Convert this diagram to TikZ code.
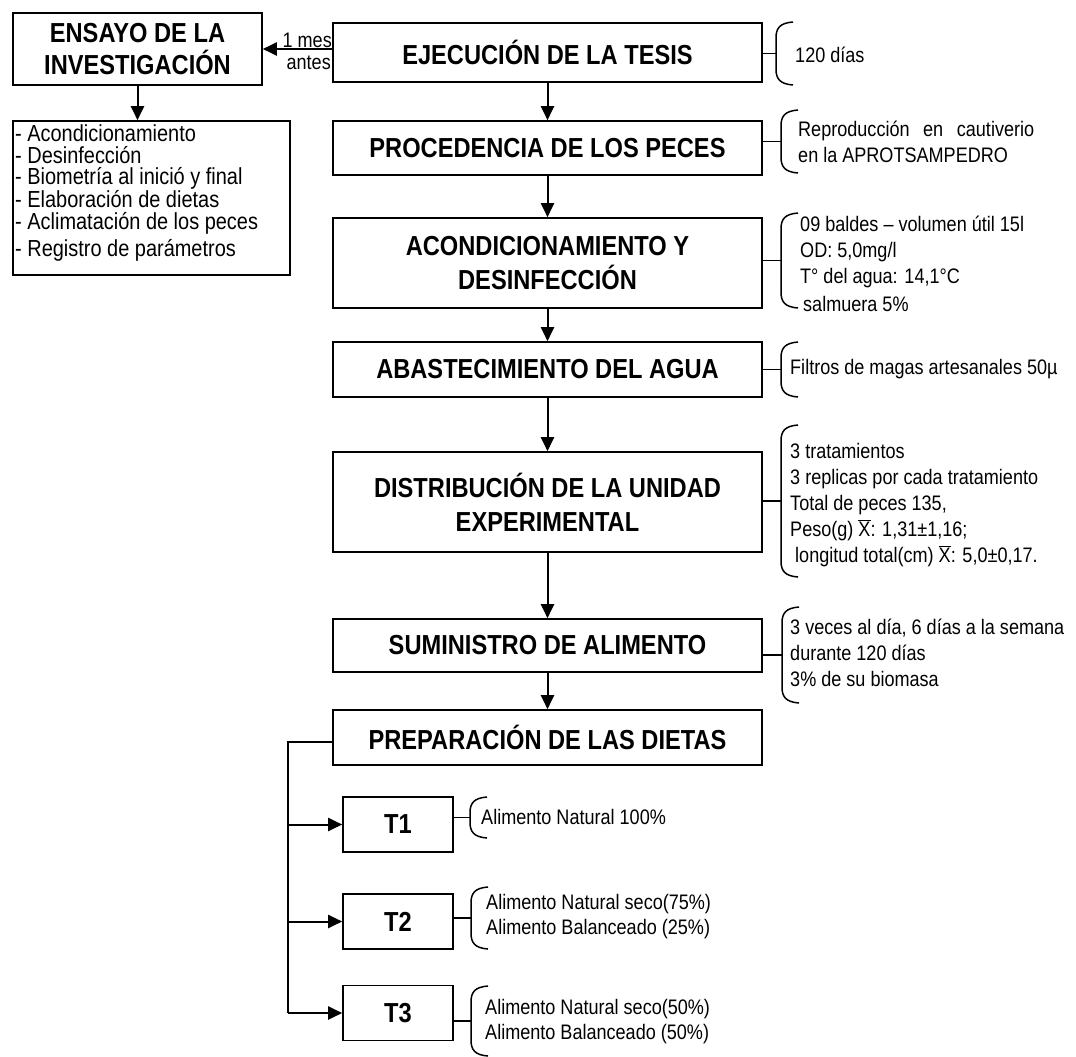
\documentclass[tikz,border=0pt]{standalone}
\usepackage{fontspec}
\setmainfont{Liberation Sans}[FakeStretch=0.86]
\usetikzlibrary{arrows.meta}

\newcommand{\headfont}{\fontsize{27.5}{34}\selectfont\bfseries}
\newcommand{\bodyfont}{\fontsize{21}{25.8}\selectfont}
\newcommand{\listfont}{\fontsize{23.2}{21.5}\selectfont}
\newcommand{\xbar}{$\overline{\hbox{X}}$}

% curly bracket: name of its tip, x of its back, top y, bottom y
\newcommand{\curlybrace}[4]{%
  \coordinate (#1) at (#2,{(#3+#4)/2});
  \draw[bracket] (#2+17,#3) .. controls (#2+4,#3+1) and (#2,#3+6) .. (#2,#3+16)
    -- (#2,#4-16) .. controls (#2,#4-6) and (#2+4,#4-1) .. (#2+17,#4);
}

\begin{document}
\begin{tikzpicture}[x=1pt,y=-1pt,
  box/.style={draw, line width=1.6pt, inner sep=0pt, align=center, font=\headfont},
  mainbox/.style={box, minimum width=429pt},
  tbox/.style={box, minimum width=110pt, minimum height=55pt},
  arr/.style={line width=2pt, -{Triangle[length=14pt,width=13pt]}},
  link/.style={line width=2pt},
  bracket/.style={line width=1.5pt},
  note/.style={anchor=west, inner sep=0pt, align=left, font=\bodyfont}]

\useasboundingbox (0,0) rectangle (1076,1057);

% left column
\node[box, minimum width=249pt, minimum height=72pt] (ensayo) at (137.5,49)
  {ENSAYO DE LA\\[-2pt]INVESTIGACIÓN};
\node[draw, line width=1.6pt, minimum width=277pt, minimum height=154pt, inner sep=0pt]
  (lista) at (151.5,198) {};
\node[anchor=west, inner sep=0pt, align=left, font=\listfont] (listatxt) at (15,193)
  {- Acondicionamiento\\- Desinfección\\- Biometría al inició y final\\
   - Elaboración de dietas\\- Aclimatación de los peces\\[4pt]- Registro de parámetros};

% main column
\node[mainbox, minimum height=59pt] (ejec) at (547.5,52.5) {EJECUCIÓN DE LA TESIS};
\node[mainbox, minimum height=54pt] (proc) at (547.5,148) {PROCEDENCIA DE LOS PECES};
\node[mainbox, minimum height=90pt] (acond) at (547.5,263) {ACONDICIONAMIENTO Y\\DESINFECCIÓN};
\node[mainbox, minimum height=55pt] (abast) at (547.5,369.5) {ABASTECIMIENTO DEL AGUA};
\node[mainbox, minimum height=100pt] (distrib) at (547.5,502) {DISTRIBUCIÓN DE LA UNIDAD\\EXPERIMENTAL};
\node[mainbox, minimum height=53pt] (sumin) at (547.5,645.5) {SUMINISTRO DE ALIMENTO};
\node[mainbox, minimum height=55pt] (prep) at (547.5,737.5) {PREPARACIÓN DE LAS DIETAS};

% treatments
\node[tbox] (t1) at (398,824.5) {T1};
\node[tbox] (t2) at (398,921.5) {T2};
\node[tbox] (t3) at (398,1013) {T3};

% flow
\draw[arr] (ejec.west |- ensayo.east) -- (ensayo.east);
\node[anchor=east, inner sep=0pt, font=\bodyfont] (mes) at (332,40) {1 mes};
\node[anchor=east, inner sep=0pt, font=\bodyfont] (antes) at (331,63) {antes};
\draw[arr] (ensayo.south) -- (ensayo.south |- lista.north);
\draw[arr] (ejec) -- (proc);
\draw[arr] (proc) -- (acond);
\draw[arr] (acond) -- (abast);
\draw[arr] (abast) -- (distrib);
\draw[arr] (distrib) -- (sumin);
\draw[arr] (sumin) -- (prep);

\coordinate (bus) at (288,742);
\draw[link] (prep.west |- bus) -- (bus) -- (bus |- t3.west);
\draw[arr] (bus |- t1.west) -- (t1.west);
\draw[arr] (bus |- t2.west) -- (t2.west);
\draw[arr] (bus |- t3.west) -- (t3.west);

% side notes with their brackets
\curlybrace{b-ejec}{776}{22}{85}
\draw[bracket] (ejec.east |- b-ejec) -- (b-ejec);
\node[note] (n-ejec) at (795,55) {120 días};

\curlybrace{b-proc}{781}{110}{173}
\draw[bracket] (proc.east |- b-proc) -- (b-proc);
\node[note] (n-proc) at (798,142) {\makebox[236pt][s]{Reproducción en cautiverio}\\en la APROTSAMPEDRO};

\curlybrace{b-acond}{781}{213}{308}
\draw[bracket] (acond.east |- b-acond) -- (b-acond);
\node[note] (n-acond) at (800,264) {09 baldes -- volumen útil 15l\\OD: 5,0mg/l\\T° del agua: 14,1°C\\[2pt]\hspace{3pt}salmuera 5\%};

\curlybrace{b-abast}{781}{342}{397}
\draw[bracket] (abast.east |- b-abast) -- (b-abast);
\node[note] (n-abast) at (790,369) {Filtros de magas artesanales 50µ};

\curlybrace{b-distrib}{781}{425}{577}
\draw[bracket] (distrib.east |- b-distrib) -- (b-distrib);
\node[note] (n-distrib) at (790,505) {3 tratamientos\\3 replicas por cada tratamiento\\Total de peces 135,\\
  Peso(g) \xbar: 1,31±1,16;\\\hspace{5pt}longitud total(cm) \xbar: 5,0±0,17.};

\curlybrace{b-sumin}{782}{607}{703}
\draw[bracket] (sumin.east |- b-sumin) -- (b-sumin);
\node[note] (n-sumin) at (790,653) {3 veces al día, 6 días a la semana\\durante 120 días\\3\% de su biomasa};

\curlybrace{b-t1}{470}{797}{838}
\draw[bracket] (t1.east |- b-t1) -- (b-t1);
\node[note] (n-t1) at (481,817) {Alimento Natural 100\%};

\curlybrace{b-t2}{471}{887}{949}
\draw[bracket] (t2.east |- b-t2) -- (b-t2);
\node[note] (n-t2) at (486,916.5) {Alimento Natural seco(75\%)\\Alimento Balanceado (25\%)};

\curlybrace{b-t3}{471}{986}{1056}
\draw[bracket] (t3.east |- b-t3) -- (b-t3);
\node[note] (n-t3) at (485,1021.5) {Alimento Natural seco(50\%)\\Alimento Balanceado (50\%)};

\end{tikzpicture}
\end{document}
